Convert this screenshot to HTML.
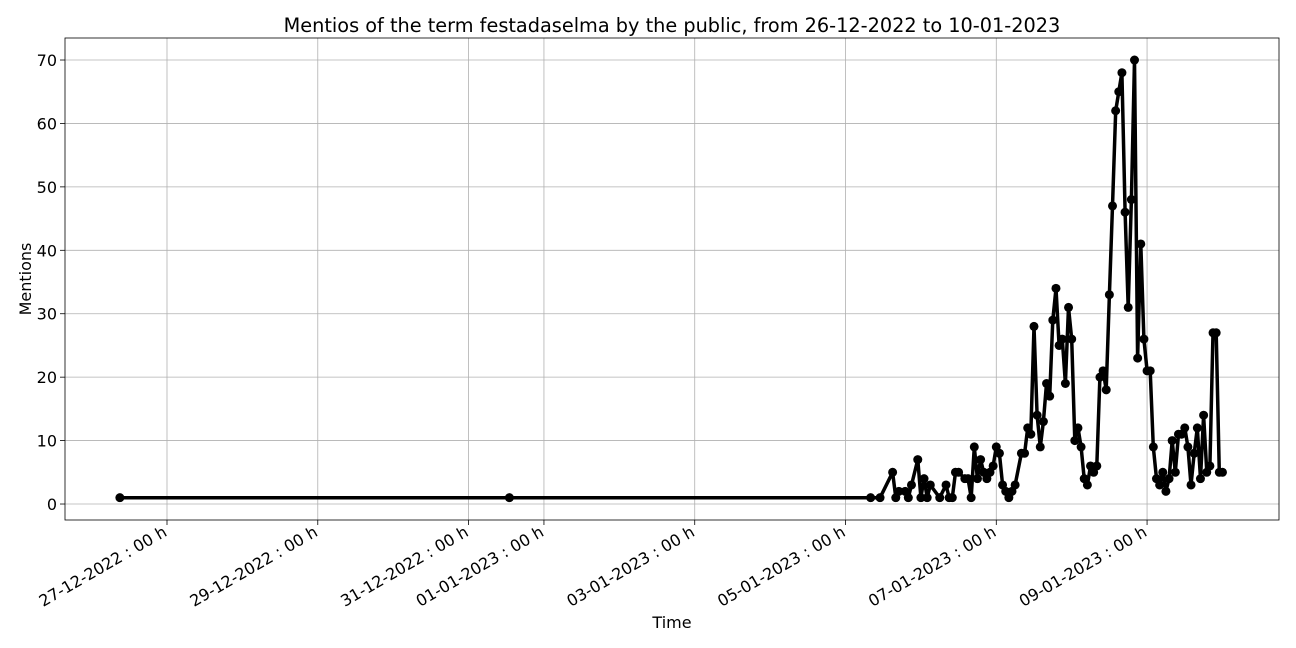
<!DOCTYPE html>
<html><head><meta charset="utf-8"><style>
body{margin:0;background:#fff;}
svg{display:block;font-family:"DejaVu Sans","Liberation Sans",sans-serif;}
</style></head><body>
<svg id="chart" width="1296" height="648" viewBox="0 0 1296 648"></svg>
<script>
// hours since 26-12-2022 00:00
const hours=[9,133,248,251,255,256,257,259,260,261,263,264,265,266,267,270,272,273,274,275,276,278,279,280,281,282,283,284,285,286,287,288,289,290,291,292,293,294,296,297,298,299,300,301,302,303,304,305,306,307,308,309,310,311,312,313,314,315,316,317,318,319,320,321,322,323,324,325,326,327,328,329,330,331,332,333,334,335,336,337,338,339,340,341,342,343,344,345,346,347,348,349,350,351,352,353,354,355,356,357,358,359,360];
const mentions=[1,1,1,1,5,1,2,2,1,3,7,1,4,1,3,1,3,1,1,5,5,4,4,1,9,4,7,5,4,5,6,9,8,3,2,1,2,3,8,8,12,11,28,14,9,13,19,17,29,34,25,26,19,31,26,10,12,9,4,3,6,5,6,20,21,18,33,47,62,65,68,46,31,48,70,23,41,26,21,21,9,4,3,5,2,4,10,5,11,11,12,9,3,8,12,4,14,5,6,27,27,5,5];
const xTickHours=[24,72,120,144,192,240,288,336];
const xTickLabels=["27-12-2022 : 00 h","29-12-2022 : 00 h","31-12-2022 : 00 h","01-01-2023 : 00 h","03-01-2023 : 00 h","05-01-2023 : 00 h","07-01-2023 : 00 h","09-01-2023 : 00 h"];
const yTicks=[0,10,20,30,40,50,60,70];

const L=65,R=1279,T=38,B=520;
const xMin=-8.47,xMax=378.0,yMin=-2.52,yMax=73.47;
const sx=h=>L+(h-xMin)/(xMax-xMin)*(R-L);
const sy=v=>B-(v-yMin)/(yMax-yMin)*(B-T);
const svg=document.getElementById('chart');
const NS='http://www.w3.org/2000/svg';
function mk(tag,attrs,parent){const e=document.createElementNS(NS,tag);for(const k in attrs)e.setAttribute(k,attrs[k]);(parent||svg).appendChild(e);return e;}

const grid=mk('g',{});


xTickHours.forEach((h,i)=>{
  const x=sx(h);
  const gl=mk('line',{x1:x,x2:x,y1:T,y2:B,stroke:'#b0b0b0','stroke-width':0.8},grid);
  
  
  mk('line',{x1:x,x2:x,y1:B,y2:B+5,stroke:'#000','stroke-width':0.8});
  const t=mk('text',{x:0,y:0,'font-size':16,'text-anchor':'end',transform:`translate(${x+1},${B+15}) rotate(-30)`});
  t.textContent=xTickLabels[i];
  
  
});
yTicks.forEach(v=>{
  const y=sy(v);
  const gl=mk('line',{x1:L,x2:R,y1:y,y2:y,stroke:'#b0b0b0','stroke-width':0.8},grid);
  
  
  mk('line',{x1:L-5,x2:L,y1:y,y2:y,stroke:'#000','stroke-width':0.8});
  const t=mk('text',{x:L-8,y:y+6,'font-size':16,'text-anchor':'end'});
  t.textContent=v;
  
  
});
const frame=mk('rect',{x:L,y:T,width:R-L,height:B-T,fill:'none',stroke:'#000','stroke-width':0.8});



const pts=hours.map((h,i)=>sx(h).toFixed(1)+','+sy(mentions[i]).toFixed(1)).join(' ');
const line=mk('polyline',{points:pts,fill:'none',stroke:'#000','stroke-width':3.5,'stroke-linejoin':'round'});


hours.forEach((h,i)=>{
  const c=mk('circle',{cx:sx(h),cy:sy(mentions[i]),r:4.5,fill:'#000'});
  
  
});

const title=mk('text',{x:(L+R)/2,y:32,'font-size':19.3,'text-anchor':'middle'});
title.textContent='Mentios of the term festadaselma by the public, from 26-12-2022 to 10-01-2023';


const xt=mk('text',{x:(L+R)/2,y:628,'font-size':16,'text-anchor':'middle'});
xt.textContent='Time';


const yt=mk('text',{x:0,y:0,'font-size':16,'text-anchor':'middle',transform:`translate(31,${(T+B)/2}) rotate(-90)`});
yt.textContent='Mentions';


</script>
</body></html>
